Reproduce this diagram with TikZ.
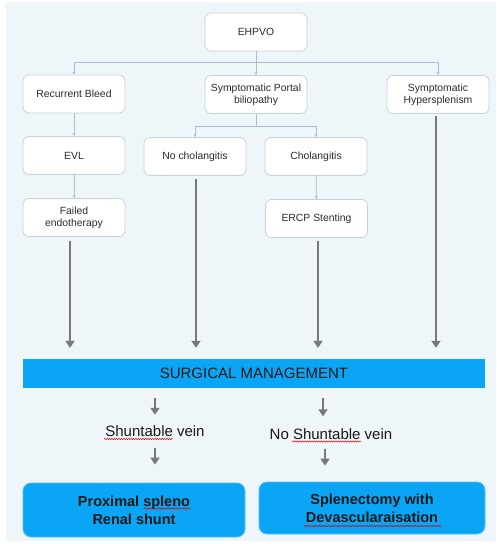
\documentclass[tikz,border=0pt]{standalone}
\usepackage{fontspec}
\setmainfont{Liberation Sans}
\usetikzlibrary{arrows.meta,calc,decorations.pathmorphing}
\definecolor{bgc}{HTML}{EEF6FA}
\definecolor{boxline}{HTML}{C5D2DC}
\definecolor{connc}{HTML}{A9BDCB}
\definecolor{arrc}{HTML}{787878}
\definecolor{bluebar}{HTML}{0AA5F5}
\definecolor{txt}{HTML}{2B2B2B}
\begin{document}
\begin{tikzpicture}[x=1pt,y=-1pt,
  box/.style={draw=boxline, line width=0.8pt, fill=white, rounded corners=6pt,
    minimum width=102pt, minimum height=38pt, align=center,
    font=\fontsize{10.4}{11.8}\selectfont, text=txt, inner sep=2pt},
  conn/.style={draw=connc, line width=0.7pt, -{Stealth[length=3pt,width=3pt]}},
  cline/.style={draw=connc, line width=0.7pt},
  big/.style={draw=arrc, line width=2.8pt, -{Triangle[length=7pt,width=9pt]}},
  result/.style={fill=bluebar, draw=bluebar!70!white, line width=0.8pt, rounded corners=8pt,
    align=center, font=\bfseries\fontsize{14.5}{18}\selectfont, text=black!90},
  lbl/.style={inner sep=0pt, font=\fontsize{15}{18}\selectfont, text=black!90},
  wavy/.style={draw=red!85!black, line width=0.45pt,
    decorate, decoration={snake, amplitude=0.7pt, segment length=2.4pt}}
]
\fill[white] (0,0) rectangle (497,544);
\useasboundingbox (0,0) rectangle (497,544);
\fill[bgc] (6,2) rectangle (496,541);

\node[box] (ehpvo) at (256,32) {EHPVO};
\node[box] (bleed) at (74,94) {Recurrent Bleed};
\node[box] (portal) at (256,94.5) {Symptomatic Portal\\biliopathy};
\node[box] (hyper) at (438,94.5) {Symptomatic\\Hypersplenism};
\node[box] (evl) at (74,155.5) {EVL};
\node[box] (nochol) at (195,156.5) {No cholangitis};
\node[box] (chol) at (316,156.5) {Cholangitis};
\node[box] (failed) at (74,217.5) {Failed\\endotherapy};
\node[box] (ercp) at (316.5,218.5) {ERCP Stenting};

\node[fill=bluebar, minimum width=462pt, minimum height=29pt, inner sep=0pt,
  font=\fontsize{15}{18}\selectfont, text=black!90] (bar) at (254,373.5) {SURGICAL MANAGEMENT};

\node[lbl] (shunt) at (155,431) {Shuntable vein};
\node[lbl] (noshunt) at (331,434) {No Shuntable vein};

\node[result, minimum width=222pt, minimum height=54pt] (prox) at (134,510) {Proximal spleno\\Renal shunt};
\node[result, minimum width=226pt, minimum height=52pt] (splen) at (372,508) {Splenectomy with\\Devascularaisation};

% spell-check underlines
\draw[wavy] (104,439) -- (173,439);
\draw[wavy] (292,441.5) -- (361,441.5);
\draw[wavy] (144,508.5) -- (191,508.5);
\draw[wavy] (304,526) -- (442,526);

% thin connectors
\coordinate (j1) at (256,62);
\draw[cline] (ehpvo.south) -- (j1);
\draw[conn] (j1) -| (bleed.north);
\draw[conn] (j1) -- (portal.north);
\draw[conn] (j1) -| (hyper.north);
\coordinate (j2) at (256,126);
\draw[cline] (portal.south) -- (j2);
\draw[conn] (j2) -| (nochol.north);
\draw[conn] (j2) -| (chol.north);
\draw[conn] (bleed) -- (evl);
\draw[conn] (evl) -- (failed);
\draw[conn] (chol) -- (ercp);

% thick arrows
\draw[big] ($(failed.south)+(-4,4)$) -- ($(failed.south |- bar.north)+(-4,-11)$);
\draw[big] ($(nochol.south)+(1,3)$) -- ($(nochol.south |- bar.north)+(1,-11)$);
\draw[big] ($(ercp.south)+(1.5,3)$) -- ($(ercp.south |- bar.north)+(1.5,-11)$);
\draw[big] ($(hyper.south)+(-2,2.5)$) -- ($(hyper.south |- bar.north)+(-2,-11)$);

% small arrows
\draw[big] ($(bar.south -| shunt)+(0,10)$) -- ($(shunt.north)+(0,-10.5)$);
\draw[big] ($(shunt.south)+(0,11)$) -- ($(shunt.south |- prox.north)+(0,-18)$);
\draw[big] ($(bar.south -| noshunt)+(-8,10)$) -- ($(noshunt.north)+(-8,-12)$);
\draw[big] ($(noshunt.south)+(-6,9)$) -- ($(noshunt.south |- splen.north)+(-6,-16)$);
\end{tikzpicture}
\end{document}
